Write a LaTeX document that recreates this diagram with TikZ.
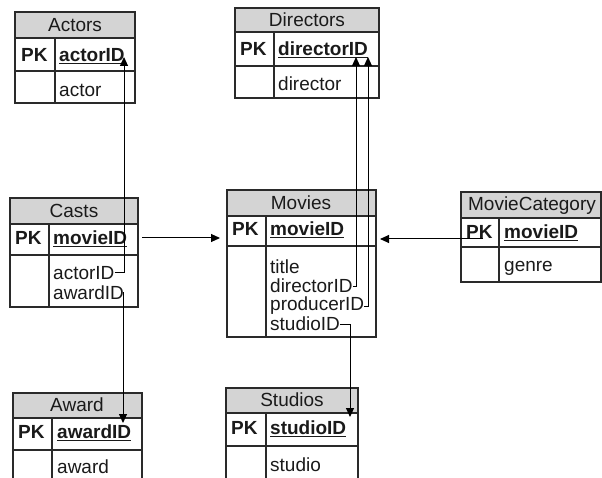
\documentclass[tikz,border=0pt]{standalone}
\usepackage{fontspec}
\setmainfont{Liberation Sans}
\usetikzlibrary{arrows.meta}
\definecolor{hdr}{HTML}{D4D4D4}
\definecolor{bord}{HTML}{2A2A2A}
\definecolor{txt}{HTML}{1A1A1A}
\tikzset{
  hdrbox/.style={fill=hdr,draw=bord,line width=1.2pt},
  rowbox/.style={draw=bord,line width=1.2pt},
  divline/.style={draw=bord,line width=1.2pt},
  ttl/.style={inner sep=0pt,text=txt,font=\fontsize{19}{20}\selectfont,anchor=center},
  fld/.style={inner sep=0pt,text=txt,font=\fontsize{19}{20}\selectfont,anchor=west},
  pk/.style={inner sep=0pt,text=txt,font=\fontsize{19}{20}\selectfont\bfseries,anchor=west},
  keyf/.style={inner sep=0pt,text=txt,font=\fontsize{19}{20}\selectfont\bfseries,anchor=west},
  uline/.style={line width=1.4pt,draw=txt},
  conn/.style={draw=black,line width=1pt},
  arr/.style={conn,-{Triangle[length=9pt,width=8pt]}}
}
% \ertbl{x1}{ytop}{x2}{yhead}{ypk}{ybottom}{xdiv}
\newcommand\ertbl[7]{%
  \path[hdrbox] (#1,#2) rectangle (#3,#4);
  \path[rowbox] (#1,#4) rectangle (#3,#5);
  \path[rowbox] (#1,#5) rectangle (#3,#6);
  \path[divline] (#7,#4) -- (#7,#6);
}
\newcommand\keyline[1]{\draw[uline] ([yshift=-2pt]#1.base west) -- ([yshift=-2pt]#1.base east);}
\begin{document}
\begin{tikzpicture}[x=1pt,y=-1pt]
\useasboundingbox (0,0) rectangle (602,478);
\clip (0,0) rectangle (602,478);
% Actors
\ertbl{15}{12}{135}{38}{71}{103}{55}
\node[ttl] (actT) at (75,25) {Actors};
\node[pk] (actPK) at (21,55) {PK};
\node[keyf] (actKey) at (59,55) {actorID};
\keyline{actKey}
\node[fld] (actF) at (59,90) {actor};
% Directors
\ertbl{235}{8}{379}{32}{66}{98}{274}
\node[ttl] (dirT) at (307,20) {Directors};
\node[pk] (dirPK) at (240,49) {PK};
\node[keyf] (dirKey) at (278,49) {directorID};
\keyline{dirKey}
\node[fld] (dirF) at (278,84) {director};
% Casts
\ertbl{10}{198}{138}{224}{255}{307}{49}
\node[ttl] (casT) at (74,211) {Casts};
\node[pk] (casPK) at (15,238) {PK};
\node[keyf] (casKey) at (53,238) {movieID};
\keyline{casKey}
\node[fld] (casA) at (53,273) {actorID};
\node[fld] (casW) at (53,293) {awardID};
% Movies
\ertbl{227}{190}{376}{216}{246}{337}{266}
\node[ttl] (movT) at (301,203) {Movies};
\node[pk] (movPK) at (232,229) {PK};
\node[keyf] (movKey) at (270,229) {movieID};
\keyline{movKey}
\node[fld] (movTi) at (270,267) {title};
\node[fld] (movD) at (270,286) {directorID};
\node[fld] (movP) at (270,306) {producerID};
\node[fld] (movS) at (270,324) {studioID};
% MovieCategory
\ertbl{461}{192}{601}{218}{247}{282}{499}
\node[ttl] (mcT) at (532,206) {MovieCategory};
\node[pk] (mcPK) at (466,232) {PK};
\node[keyf] (mcKey) at (504,232) {movieID};
\keyline{mcKey}
\node[fld] (mcF) at (504,268) {genre};
% Award
\ertbl{13}{393}{142}{418}{450}{500}{52}
\node[ttl] (awT) at (77,405) {Award};
\node[pk] (awPK) at (18,432) {PK};
\node[keyf] (awKey) at (57,432) {awardID};
\keyline{awKey}
\node[fld] (awF) at (57,467) {award};
% Studios
\ertbl{226}{388}{358}{413}{446}{500}{266}
\node[ttl] (stT) at (292,400) {Studios};
\node[pk] (stPK) at (231,428) {PK};
\node[keyf] (stKey) at (270,428) {studioID};
\keyline{stKey}
\node[fld] (stF) at (270,465) {studio};
% connector ends
\coordinate (tipAct) at (124,57);
\coordinate (tipDir1) at (356,57);
\coordinate (tipDir2) at (368,57);
\coordinate (tipAw) at (123,423);
\coordinate (tipSt) at (350,417);
\coordinate (casOut) at (142,238);
\coordinate (movIn) at (220,238);
\coordinate (mcOut) at (483,239);
\coordinate (movIn2) at (380,239);
\coordinate (awStart) at (123,292);
% connectors
\draw[arr] (casA.east) -| (tipAct);
\draw[arr] (awStart) -- (tipAw);
\draw[arr] (movD.east) -| (tipDir1);
\draw[arr] (movP.east) -| (tipDir2);
\draw[arr] (movS.east) -| (tipSt);
\draw[arr] (casOut) -- (movIn);
\draw[arr] (mcOut) -- (movIn2);
\end{tikzpicture}
\end{document}
